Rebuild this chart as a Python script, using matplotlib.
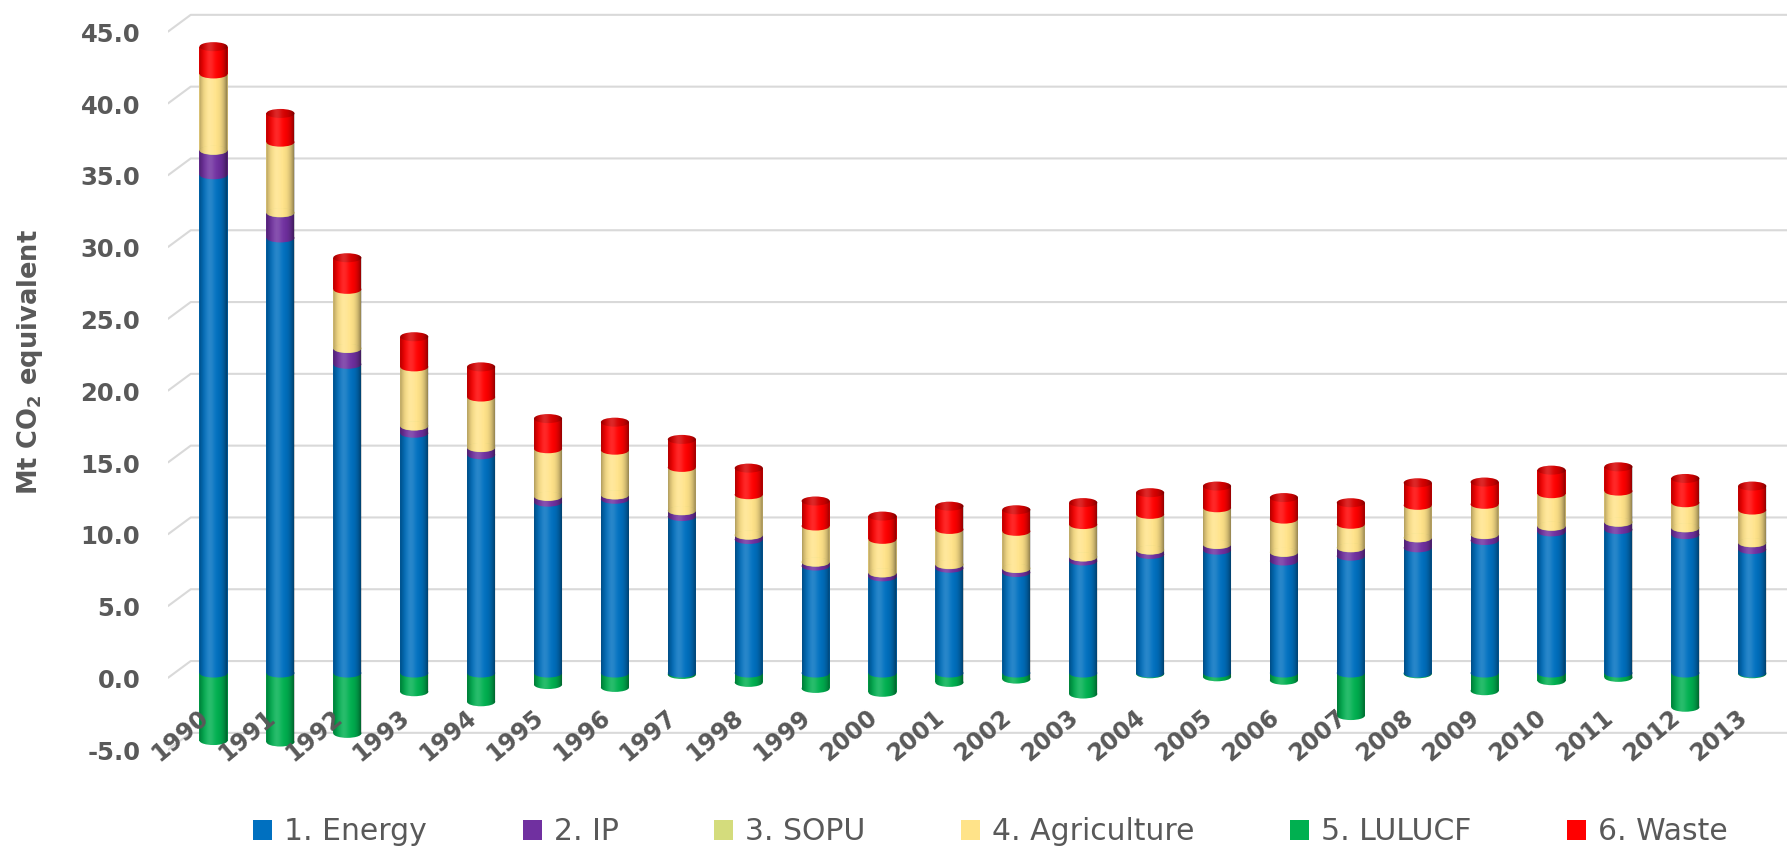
import numpy as np
import matplotlib
matplotlib.use("Agg")
import matplotlib.pyplot as plt
from matplotlib.patches import Ellipse, Patch, PathPatch
from matplotlib.path import Path
import matplotlib.colors as mcolors

plt.rcParams["font.family"] = ["DejaVu Sans"]
plt.rcParams["mathtext.fontset"] = "dejavusans"
plt.rcParams["mathtext.default"] = "bf"

# ---- data (Mt CO2 equivalent) ----
years = ["1990", "1991", "1992", "1993", "1994", "1995", "1996", "1997",
         "1998", "1999", "2000", "2001", "2002", "2003", "2004", "2005",
         "2006", "2007", "2008", "2009", "2010", "2011", "2012", "2013"]
energy = [34.7, 30.3, 21.5, 16.7, 15.2, 11.9, 12.1, 10.9, 9.3, 7.45, 6.7, 7.3,
          7.0, 7.8, 8.26, 8.56, 7.8, 8.14, 8.72, 9.23, 9.83, 9.99, 9.64, 8.6]
ip = [1.7, 1.75, 1.1, 0.5, 0.5, 0.4, 0.3, 0.4, 0.3, 0.27, 0.27, 0.25,
      0.28, 0.28, 0.3, 0.39, 0.6, 0.58, 0.69, 0.41, 0.39, 0.51, 0.47, 0.47]
sopu = [0.02, 0.02, 0.02, 0.02, 0.02, 0.02, 0.02, 0.02, 0.02, 0.02, 0.02, 0.02,
        0.02, 0.02, 0.02, 0.02, 0.02, 0.02, 0.02, 0.02, 0.02, 0.02, 0.02, 0.02]
agriculture = [5.3, 4.9, 4.1, 4.1, 3.5, 3.3, 3.1, 3.0, 2.8, 2.5, 2.32, 2.43,
               2.57, 2.24, 2.47, 2.54, 2.3, 1.62, 2.25, 2.09, 2.25, 2.15, 1.73, 2.26]
lulucf = [-4.7, -4.8, -4.2, -1.3, -2.0, -0.8, -1.0, -0.1, -0.65, -1.07, -1.34, -0.65,
          -0.42, -1.46, -0.05, -0.26, -0.5, -2.96, -0.05, -1.23, -0.53, -0.3, -2.38, -0.05]
waste = [1.9, 2.0, 2.2, 2.1, 2.1, 2.1, 1.95, 1.95, 1.85, 1.74, 1.62, 1.62,
         1.5, 1.53, 1.51, 1.51, 1.5, 1.5, 1.57, 1.55, 1.64, 1.69, 1.69, 1.67]

labels = ["1. Energy", "2. IP", "3. SOPU", "4. Agriculture", "5. LULUCF", "6. Waste"]
colors = ["#0070C0", "#7030A0", "#D4DC7C", "#FFE389", "#00B050", "#FF0000"]
y_ticks = [-5, 0, 5, 10, 15, 20, 25, 30, 35, 40, 45]

TEXT = "#595959"
GRID = "#D9D9D9"

W, H = 1787, 850
fig = plt.figure(figsize=(W / 100, H / 100), dpi=100)
left_px = 167.7
ax = fig.add_axes([left_px / W, 0.10682, 1 - left_px / W, 0.892])
ax.set_xlim(-0.685, 23.52)
ax.set_ylim(-6, 46.8)
ax.axis("off")

# data units per pixel
fig.canvas.draw()
bbox = ax.get_window_extent()
xu = (23.52 + 0.685) / bbox.width
yu = (46.8 + 6) / bbox.height

# ---- back wall gridlines with the side-wall diagonal ----
x0, x1 = ax.get_xlim()
front_drop = 5 * yu
depth_x, depth_y = 23 * xu, 17 * yu
for g in y_ticks:
    yf = g - front_drop
    yb = yf + depth_y
    ax.plot([x0, x0 + depth_x, x1], [yf, yb, yb], color=GRID, lw=1.5,
            zorder=1, solid_capstyle="butt")
    ax.text(-0.017, yf - 3 * yu, f"{g:.1f}", transform=ax.get_yaxis_transform(),
            ha="right", va="center", fontsize=17.5, fontweight="bold", color=TEXT)

# ---- stacked cylinders ----
x = np.arange(len(years))
bw = 0.42
eh = 9 * yu

stack_pos = [energy, ip, sopu, agriculture, waste]
stack_col = [colors[0], colors[1], colors[2], colors[3], colors[5]]

ax.bar(x, lulucf, bw, color=colors[4], zorder=2, linewidth=0)
bottom = np.zeros(len(x))
seg_bottoms = []
for vals, col in zip(stack_pos, stack_col):
    vals = np.asarray(vals, dtype=float)
    ax.bar(x, vals, bw, bottom=bottom, color=col, zorder=2, linewidth=0)
    seg_bottoms.append((bottom.copy(), col))
    bottom = bottom + vals
totals = bottom


def darker(c, f):
    r, g, b = mcolors.to_rgb(c)
    return (r * f, g * f, b * f)


# dark edges and a soft highlight to give the round look
t = np.linspace(-1, 1, 128)
dark = np.zeros((1, t.size, 4))
dark[..., 3] = 0.42 * np.clip(np.abs(t + 0.08), 0, 1) ** 3.2
light = np.ones((1, t.size, 4))
light[..., 3] = 0.16 * np.exp(-((t + 0.25) / 0.35) ** 2)

theta_low = np.linspace(np.pi, 2 * np.pi, 40)
theta_up = np.linspace(0, np.pi, 40)

for i in x:
    lo = min(lulucf[i], 0.0)
    # rounded bottom of the column
    bottom_col = colors[4] if lulucf[i] < 0 else colors[0]
    ax.add_patch(Ellipse((i, lo), bw, eh, color=bottom_col, lw=0, zorder=3))
    # curved seams between segments
    for k, (b, col) in enumerate(seg_bottoms):
        ax.add_patch(Ellipse((i, b[i]), bw, eh, color=col, lw=0, zorder=4 + k))
    # top cap
    ax.add_patch(Ellipse((i, totals[i]), bw, eh, color=darker(colors[5], 0.84),
                         lw=0, zorder=10))

    # silhouette used to clip the shading
    xl, xr = i - bw / 2, i + bw / 2
    pts = [(xl, totals[i]), (xl, lo)]
    pts += list(zip(i + bw / 2 * np.cos(theta_low), lo + eh / 2 * np.sin(theta_low)))
    pts += [(xr, totals[i])]
    pts += list(zip(i + bw / 2 * np.cos(theta_up), totals[i] + eh / 2 * np.sin(theta_up)))
    pts.append(pts[0])
    clip = PathPatch(Path(pts, closed=True), transform=ax.transData)
    ext = [xl, xr, lo - eh / 2, totals[i] + eh / 2]
    for img in (dark, light):
        im = ax.imshow(img, extent=ext, aspect="auto", interpolation="bilinear",
                       zorder=12)
        im.set_clip_path(clip)

ax.set_xlim(x0, x1)
ax.set_ylim(-6, 46.8)

# ---- rotated year labels ----
for i, yr in enumerate(years):
    ax.text(i - 0.12, -2.85, yr, rotation=40, rotation_mode="anchor",
            ha="right", va="center", fontsize=17, fontweight="bold",
            color=TEXT, zorder=20)

# ---- axis title ----
fig.text(0.0168, 0.574, "Mt CO$_2$ equivalent", rotation=90, ha="center",
         va="center", fontsize=18.5, fontweight="bold", color=TEXT)

# ---- legend ----
handles = [Patch(facecolor=c, edgecolor="none") for c in colors]
fig.legend(handles, labels, loc="center", bbox_to_anchor=(0.5543, 0.0212),
           ncol=6, frameon=False, fontsize=21.5, handlelength=0.64,
           handleheight=0.64, handletextpad=0.4, columnspacing=3.2,
           labelcolor=TEXT)

fig.savefig("out.png", dpi=100)
